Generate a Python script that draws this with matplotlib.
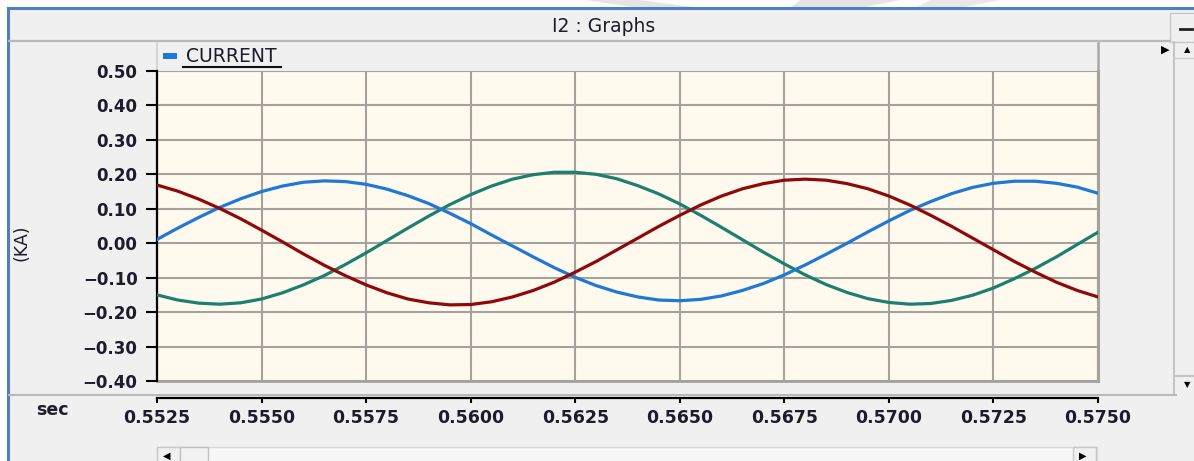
import numpy as np
import matplotlib
matplotlib.use("Agg")
import matplotlib.pyplot as plt
from matplotlib.patches import Rectangle, Polygon
from matplotlib.lines import Line2D

# ---------------- data ----------------
time_s = np.linspace(0.5525, 0.5750, 46)

current_blue = [0.011, 0.044, 0.075, 0.104, 0.129, 0.150, 0.166, 0.177, 0.181, 0.179,
                0.171, 0.157, 0.138, 0.115, 0.087, 0.057, 0.024, -0.008, -0.040, -0.071,
                -0.099, -0.123, -0.142, -0.156, -0.165, -0.167, -0.163, -0.153, -0.137, -0.117,
                -0.092, -0.063, -0.032, 0.000, 0.033, 0.065, 0.095, 0.121, 0.144, 0.162,
                0.174, 0.180, 0.180, 0.174, 0.163, 0.145]

current_green = [-0.150, -0.165, -0.174, -0.177, -0.173, -0.162, -0.144, -0.121, -0.094, -0.062,
                 -0.028, 0.008, 0.044, 0.079, 0.112, 0.141, 0.166, 0.186, 0.199, 0.206,
                 0.206, 0.200, 0.187, 0.167, 0.143, 0.114, 0.081, 0.046, 0.010, -0.026,
                 -0.060, -0.092, -0.120, -0.143, -0.161, -0.172, -0.177, -0.175, -0.166, -0.151,
                 -0.130, -0.103, -0.073, -0.040, -0.004, 0.032]

current_red = [0.169, 0.151, 0.128, 0.101, 0.071, 0.038, 0.004, -0.031, -0.064, -0.094,
               -0.121, -0.144, -0.162, -0.173, -0.179, -0.178, -0.170, -0.156, -0.137, -0.113,
               -0.084, -0.053, -0.019, 0.015, 0.049, 0.081, 0.111, 0.137, 0.158, 0.173,
               0.183, 0.186, 0.183, 0.173, 0.158, 0.137, 0.111, 0.081, 0.049, 0.015,
               -0.019, -0.053, -0.084, -0.113, -0.137, -0.156]

x_ticks = [0.5525, 0.5550, 0.5575, 0.5600, 0.5625, 0.5650, 0.5675, 0.5700, 0.5725, 0.5750]
y_ticks = [-0.40, -0.30, -0.20, -0.10, 0.00, 0.10, 0.20, 0.30, 0.40, 0.50]
x_tick_labels = ["0.5525", "0.5550", "0.5575", "0.5600", "0.5625",
                 "0.5650", "0.5675", "0.5700", "0.5725", "0.5750"]
y_tick_labels = ["\u22120.40", "\u22120.30", "\u22120.20", "\u22120.10", "0.00",
                 "0.10", "0.20", "0.30", "0.40", "0.50"]
title_text = "I2 : Graphs"
legend_text = "CURRENT"
y_label = "(KA)"
x_label = "sec"

# ---------------- styles ----------------
W, H = 1194, 461
PANEL = "#F0F0F0"
PLOT_BG = "#FFF9EE"
GRID = "#A5A19B"
FRAME_BLUE = "#4F7FC0"
TXT = "#1C1C2C"
C_BLUE = "#1E78D8"
C_GREEN = "#1B8070"
C_RED = "#8E0A0A"

plt.rcParams["font.family"] = ["DejaVu Sans"]

fig = plt.figure(figsize=(W / 100, H / 100), dpi=100)
fig.patch.set_facecolor("white")

# chrome layer (pixel coordinates)
bg = fig.add_axes([0, 0, 1, 1], zorder=0)
bg.set_xlim(0, W)
bg.set_ylim(H, 0)
bg.axis("off")

# faint watermark in top white strip
bg.add_patch(Polygon([[585, 0], [640, 0], [700, 8], [640, 8]], closed=True, color="#E4E4E4", lw=0))
bg.add_patch(Polygon([[800, 0], [900, 0], [860, 8], [790, 8]], closed=True, color="#E4E4E4", lw=0))
bg.add_patch(Polygon([[930, 0], [1000, 0], [960, 8], [915, 8]], closed=True, color="#E8E8E8", lw=0))

# panel
bg.add_patch(Rectangle((9, 9), W - 9, H - 9, color=PANEL, lw=0))
# blue frame
bg.add_line(Line2D([8, 8], [8, H], color=FRAME_BLUE, lw=2.2))
bg.add_line(Line2D([8, W], [8, 8], color=FRAME_BLUE, lw=2.2))

# title bar separator
bg.add_line(Line2D([9, 1170], [41.5, 41.5], color="#B9B9B9", lw=1.6))
bg.text(604, 27, title_text, ha="center", va="center", fontsize=13.5, color=TXT)
# minimize button
bg.add_patch(Rectangle((1170, 13), 26, 29, facecolor=PANEL, edgecolor="#C8C8C8", lw=1.0))
bg.add_line(Line2D([1180, 1192], [29, 29], color="#202020", lw=2.0))

# legend bar
bg.add_patch(Rectangle((157, 43), 940, 27, facecolor=PANEL, edgecolor="none"))
bg.add_line(Line2D([157, 157], [43, 70], color="#D0D0D0", lw=1.2))
bg.add_line(Line2D([1097.5, 1097.5], [43, 71], color="#A8A8A8", lw=1.8))
bg.add_patch(Rectangle((163, 53), 14, 6.5, color=C_BLUE, lw=0))
bg.text(186, 57, legend_text, ha="left", va="center", fontsize=13.5, color=TXT)
bg.add_line(Line2D([183, 281], [67.3, 67.3], color="#101010", lw=1.5))
bg.text(1165, 50, "\u25B6", ha="center", va="center", fontsize=8, color="black")

# right scrollbar
bg.add_line(Line2D([1174, 1174], [42, 395], color="#C4C4C4", lw=1.5))
bg.add_line(Line2D([1174, W], [58, 58], color="#D0D0D0", lw=1.0))
bg.add_line(Line2D([1174, W], [376, 376], color="#C4C4C4", lw=1.5))
bg.text(1187, 50, "\u25B2", ha="center", va="center", fontsize=6, color="black")
bg.text(1187, 385, "\u25BC", ha="center", va="center", fontsize=6, color="black")

# bottom separator
bg.add_line(Line2D([9, 1176], [395, 395], color="#B9B9B9", lw=1.5))

# axis caption texts
bg.text(22, 243, y_label, ha="center", va="center", rotation=90, fontsize=12.5, color=TXT)
bg.text(52, 410, x_label, ha="center", va="center", fontsize=12.5, fontweight="bold", color=TXT)

# bottom scrollbar
bg.add_patch(Rectangle((157, 447), 940, 16, facecolor="#F7F7F7", edgecolor="#D8D8D8", lw=1.0))
bg.add_patch(Rectangle((157, 447), 23, 16, facecolor=PANEL, edgecolor="#C8C8C8", lw=1.0))
bg.add_patch(Rectangle((180, 447), 28, 16, facecolor="#F2F2F2", edgecolor="#C0C0C0", lw=1.0))
bg.add_patch(Rectangle((1073, 447), 23, 16, facecolor=PANEL, edgecolor="#C8C8C8", lw=1.0))
bg.text(167, 456, "\u25C0", ha="center", va="center", fontsize=7, color="black")
bg.text(1083, 456, "\u25B6", ha="center", va="center", fontsize=7, color="black")

# ---------------- plot ----------------
ax = fig.add_axes([157 / W, 1 - 381 / H, 941 / W, 310 / H], zorder=1)
ax.set_facecolor(PLOT_BG)
ax.set_xlim(x_ticks[0], x_ticks[-1])
ax.set_ylim(y_ticks[0], y_ticks[-1])
ax.set_xticks(x_ticks)
ax.set_xticklabels(x_tick_labels)
ax.set_yticks(y_ticks)
ax.set_yticklabels(y_tick_labels)
ax.grid(True, color=GRID, lw=1.5)
ax.set_axisbelow(True)

ax.plot(time_s, current_green, color=C_GREEN, lw=2.3, solid_joinstyle="round", zorder=3)
ax.plot(time_s, current_blue, color=C_BLUE, lw=2.3, solid_joinstyle="round", zorder=3)
ax.plot(time_s, current_red, color=C_RED, lw=2.3, solid_joinstyle="round", zorder=4)

# plot frame edges
ax.axhline(y_ticks[0], color=GRID, lw=2.0, clip_on=False, zorder=2)
ax.axvline(x_ticks[-1], color=GRID, lw=2.2, clip_on=False, zorder=2)

for s in ["top", "right"]:
    ax.spines[s].set_visible(False)
ax.spines["left"].set_color("black")
ax.spines["left"].set_linewidth(1.6)
ax.spines["bottom"].set_position(("outward", 12.5))
ax.spines["bottom"].set_color("black")
ax.spines["bottom"].set_linewidth(1.6)

ax.tick_params(axis="y", direction="out", length=8, width=1.5, color="black",
               pad=6, labelsize=12, labelcolor=TXT)
ax.tick_params(axis="x", direction="out", length=3.6, width=1.5, color="black",
               pad=4, labelsize=12.5, labelcolor=TXT)
for lab in ax.get_xticklabels() + ax.get_yticklabels():
    lab.set_fontweight("bold")

fig.savefig("out.png", dpi=100, facecolor=fig.get_facecolor())
